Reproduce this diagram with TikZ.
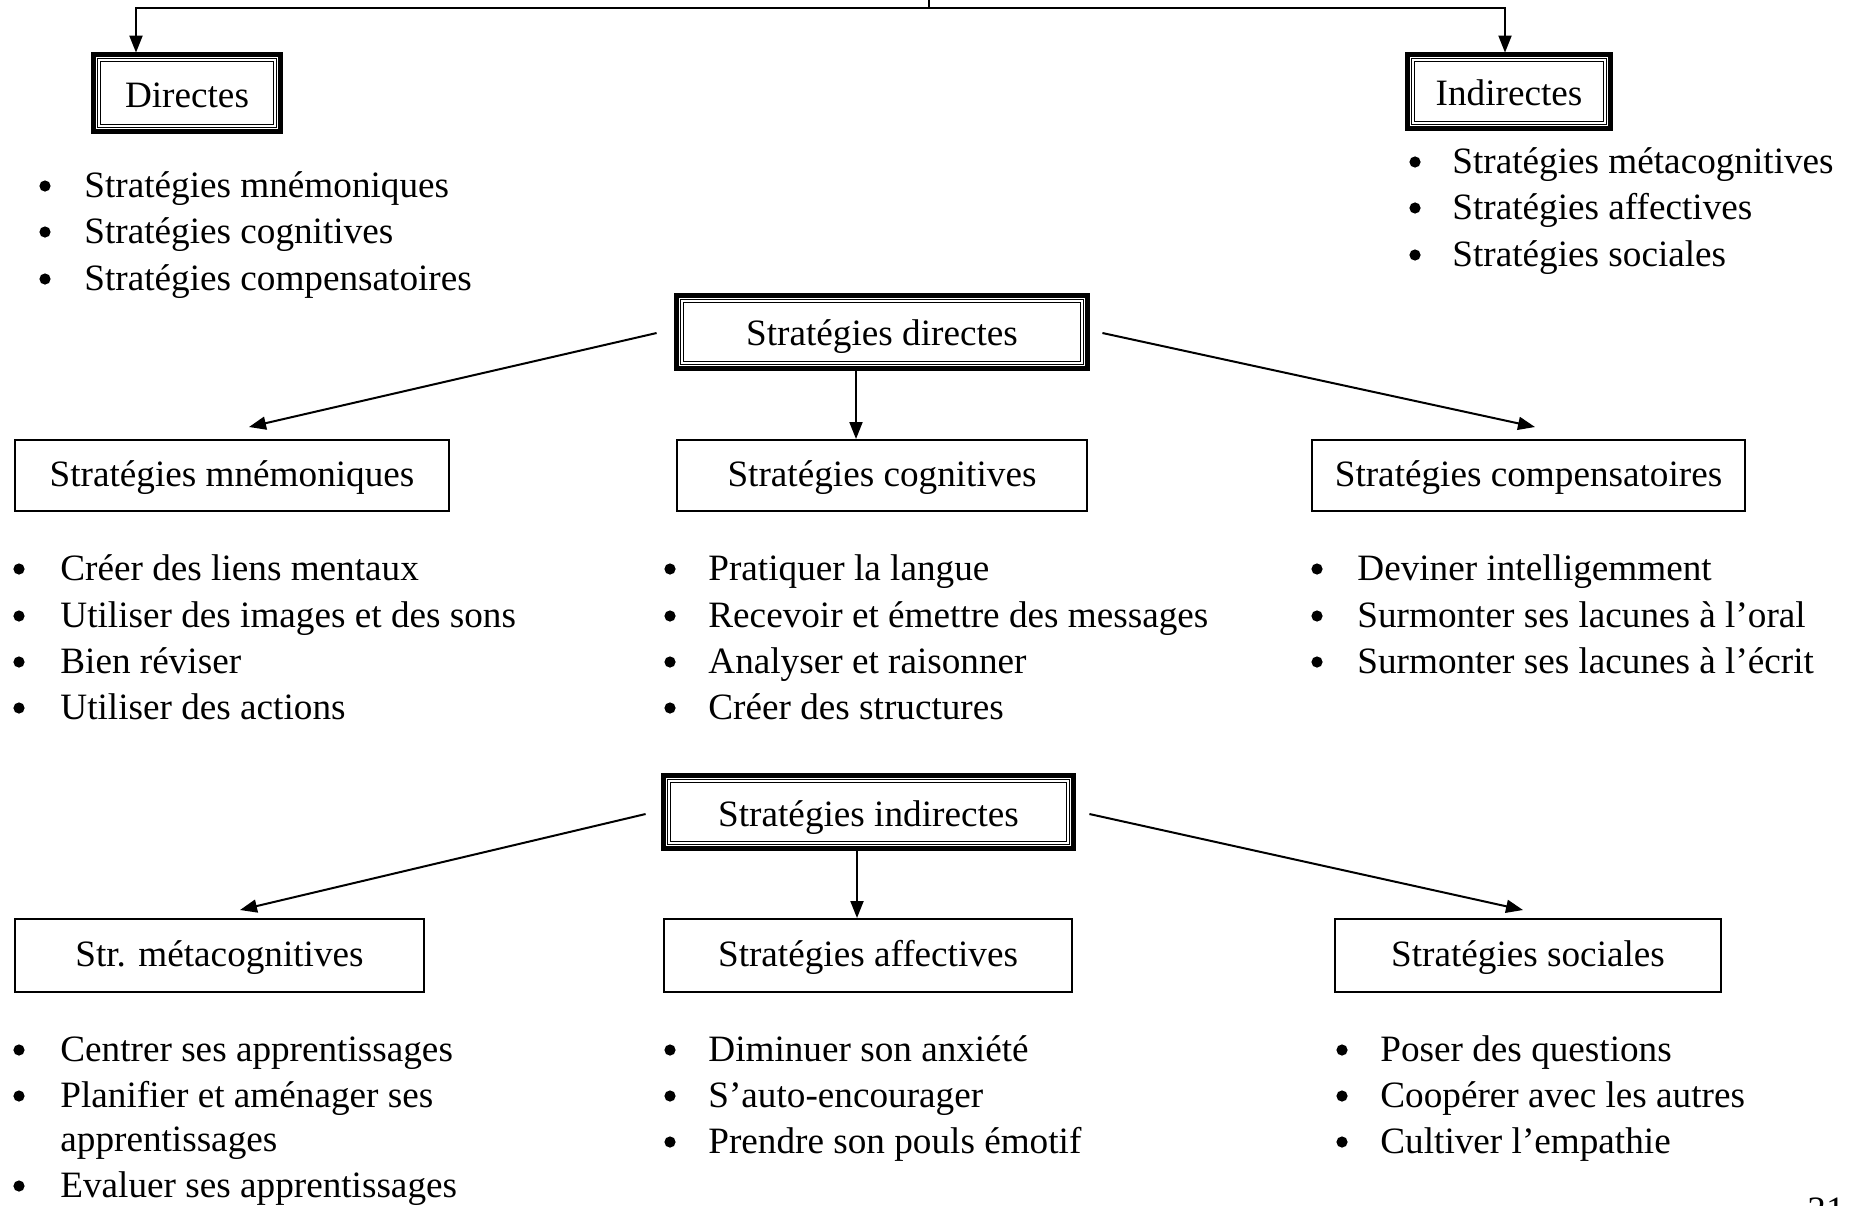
\documentclass[tikz,border=0pt]{standalone}
\usepackage{fontspec}
\setmainfont{Liberation Serif}
\usetikzlibrary{arrows.meta}
\newcommand\myfs{\fontsize{18.6pt}{22pt}\selectfont}
\newcommand\lowr[2]{\raisebox{-#1}[\height][\depth]{#2}}
\newcommand\dframe[1]{%
  \draw[outerb] ([shift={(1.1pt,1.1pt)}]#1.south west) rectangle ([shift={(-1.1pt,-1.1pt)}]#1.north east);
  \draw[innerb] ([shift={(3.8pt,3.8pt)}]#1.south west) rectangle ([shift={(-3.8pt,-3.8pt)}]#1.north east);}
\begin{document}
\begin{tikzpicture}[x=0.5pt,y=-0.5pt,
  every node/.style={font=\myfs, inner sep=0pt},
  box/.style={draw, line width=1pt, minimum width=#1},
  row1/.style={minimum height=35.5pt},
  row2/.style={minimum height=36.5pt},
  dnode/.style={minimum width=#1},
  outerb/.style={line width=2.4pt},
  innerb/.style={line width=0.5pt, double, double distance=1pt},
  conn/.style={line width=1pt},
  arr/.style={conn, -{Triangle[length=8.5pt,width=6.5pt]}},
  bul/.style={circle, fill, minimum size=5.6pt},
  item/.style={anchor=base west, yshift=-5.5pt},
]
\useasboundingbox (0,0) rectangle (1856,1205);

% top level
\coordinate (topend) at (929,0);
\coordinate (tj) at (929,8);
\node[dnode=95pt, minimum height=40pt] (dir) at (187,93) {\lowr{1.2pt}{Directes}};
\node[dnode=103pt, minimum height=38.5pt] (ind) at (1509,91.5) {\lowr{0.6pt}{Indirectes}};
\dframe{dir}
\dframe{ind}
\draw[conn] (topend) -- (tj);
\draw[arr] (tj) -| ([xshift=-25.5pt]dir.north);
\draw[arr] (tj) -| ([xshift=-2pt]ind.north);

% top lists
\node[bul] (b1) at (45,186) {}; \node[item] (t1) at (84,186) {Stratégies mnémoniques};
\node[bul] (b2) at (45,232) {}; \node[item] (t2) at (84,232) {Stratégies cognitives};
\node[bul] (b3) at (45,279) {}; \node[item] (t3) at (84,279) {Stratégies compensatoires};
\node[bul] (b4) at (1415,162) {}; \node[item] (t4) at (1452,162) {Stratégies métacognitives};
\node[bul] (b5) at (1415,208) {}; \node[item] (t5) at (1452,208) {Stratégies affectives};
\node[bul] (b6) at (1415,255) {}; \node[item] (t6) at (1452,255) {Stratégies sociales};

% strategies directes
\node[dnode=207pt, minimum height=38pt] (sd) at (882,332) {\lowr{2.4pt}{Stratégies directes}};
\dframe{sd}
\node[box=217pt, row1] (mnem) at (232,475.5) {\lowr{1.2pt}{Stratégies mnémoniques}};
\node[box=205pt, row1] (cogn) at (882,475.5) {\lowr{1.2pt}{Stratégies cognitives}};
\node[box=216.5pt, row1] (comp) at (1528.5,475.5) {\lowr{1.2pt}{Stratégies compensatoires}};
\draw[arr] ([xshift=-9pt,yshift=-0.5pt]sd.west) -- ([xshift=8.5pt,yshift=6pt]mnem.north);
\draw[arr] ([xshift=6.5pt,yshift=-0.5pt]sd.east) -- ([xshift=3.25pt,yshift=6pt]comp.north);
\draw[arr] ([xshift=-13pt]sd.south) -- ([xshift=-13pt]cogn.north);

% row 1 lists
\node[bul] (m1b) at (19,569) {}; \node[item] (m1) at (60,569) {Créer des liens mentaux};
\node[bul] (m2b) at (19,616) {}; \node[item] (m2) at (60,616) {Utiliser des images et des sons};
\node[bul] (m3b) at (19,662) {}; \node[item] (m3) at (60,662) {Bien réviser};
\node[bul] (m4b) at (19,708) {}; \node[item] (m4) at (60,708) {Utiliser des actions};
\node[bul] (c1b) at (670,569) {}; \node[item] (c1) at (708,569) {Pratiquer la langue};
\node[bul] (c2b) at (670,616) {}; \node[item] (c2) at (708,616) {Recevoir et émettre des messages};
\node[bul] (c3b) at (670,662) {}; \node[item] (c3) at (708,662) {Analyser et raisonner};
\node[bul] (c4b) at (670,708) {}; \node[item] (c4) at (708,708) {Créer des structures};
\node[bul] (p1b) at (1317,569) {}; \node[item] (p1) at (1357,569) {Deviner intelligemment};
\node[bul] (p2b) at (1317,616) {}; \node[item] (p2) at (1357,616) {Surmonter ses lacunes à l’oral};
\node[bul] (p3b) at (1317,662) {}; \node[item] (p3) at (1357,662) {Surmonter ses lacunes à l’écrit};

% strategies indirectes
\node[dnode=206.5pt, minimum height=38pt] (si) at (868.5,812) {\lowr{2.8pt}{Stratégies indirectes}};
\dframe{si}
\node[box=204.5pt, row2] (meta) at (219.5,955.5) {\lowr{1.2pt}{Str. métacognitives}};
\node[box=204pt, row2] (aff) at (868,955.5) {\lowr{1.2pt}{Stratégies affectives}};
\node[box=193pt, row2] (soc) at (1528,955.5) {\lowr{1.2pt}{Stratégies sociales}};
\draw[arr] ([xshift=-8pt,yshift=-1pt]si.west) -- ([xshift=10.25pt,yshift=4pt]meta.north);
\draw[arr] ([xshift=7pt,yshift=-1pt]si.east) -- ([xshift=-2.5pt,yshift=4pt]soc.north);
\draw[arr] ([xshift=-5.75pt]si.south) -- ([xshift=-5.75pt]si.south |- aff.north);

% row 2 lists
\node[bul] (e1b) at (19,1050) {}; \node[item] (e1) at (60,1050) {Centrer ses apprentissages};
\node[bul] (e2b) at (19,1096) {}; \node[item] (e2) at (60,1096) {Planifier et aménager ses};
\node[item] (e2c) at (60,1140) {apprentissages};
\node[bul] (e3b) at (19,1186) {}; \node[item] (e3) at (60,1186) {Evaluer ses apprentissages};
\node[bul] (a1b) at (670,1050) {}; \node[item] (a1) at (708,1050) {Diminuer son anxiété};
\node[bul] (a2b) at (670,1096) {}; \node[item] (a2) at (708,1096) {S’auto-encourager};
\node[bul] (a3b) at (670,1142) {}; \node[item] (a3) at (708,1142) {Prendre son pouls émotif};
\node[bul] (s1b) at (1342,1050) {}; \node[item] (s1) at (1380,1050) {Poser des questions};
\node[bul] (s2b) at (1342,1096) {}; \node[item] (s2) at (1380,1096) {Coopérer avec les autres};
\node[bul] (s3b) at (1342,1142) {}; \node[item] (s3) at (1380,1142) {Cultiver l’empathie};

\node[anchor=base] (pg) at (1826,1222) {31};
\end{tikzpicture}
\end{document}
